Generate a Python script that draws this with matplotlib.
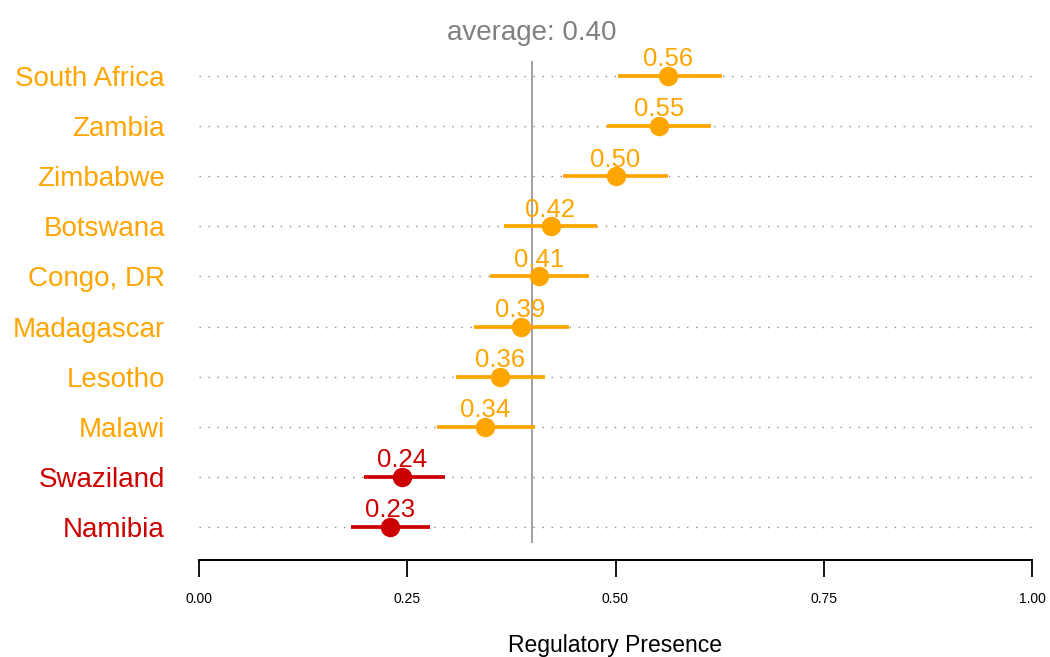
import matplotlib
matplotlib.use("Agg")
import matplotlib.pyplot as plt
import matplotlib.transforms as mtransforms

plt.rcParams['font.family'] = ['Liberation Sans', 'DejaVu Sans']

countries = ["Namibia", "Swaziland", "Malawi", "Lesotho", "Madagascar",
             "Congo, DR", "Botswana", "Zimbabwe", "Zambia", "South Africa"]
values = [0.229, 0.244, 0.343, 0.361, 0.386, 0.408, 0.422, 0.500, 0.552, 0.563]
lower = [0.182, 0.198, 0.286, 0.309, 0.330, 0.349, 0.366, 0.4375, 0.490, 0.503]
upper = [0.277, 0.295, 0.403, 0.415, 0.444, 0.468, 0.478, 0.563, 0.615, 0.628]
groups = ["low", "low", "mid", "mid", "mid", "mid", "mid", "mid", "mid", "mid"]
average = 0.40
x_ticks = [0.0, 0.25, 0.5, 0.75, 1.0]
x_ticklabels = ["0.00", "0.25", "0.50", "0.75", "1.00"]

palette = {"low": "#CC0000", "mid": "#FFA500"}

W, H = 1050, 657
fig = plt.figure(figsize=(W / 100, H / 100), dpi=100)
left, right = 199 / W, 1032 / W
bottom, top = (H - 552) / H, (H - 51) / H
ax = fig.add_axes([left, bottom, right - left, top - bottom])

n = len(countries)
ypos = list(range(n))

# dotted guide lines
ax.hlines(ypos, 0, 1, colors="#8c8c8c", linewidth=1.0,
          linestyles=(0, (1.0, 5.5)), zorder=1)

# average line
ax.axvline(average, ymin=(552 - 542) / 501, ymax=(552 - 62) / 501,
           color="#999999", linewidth=1.3, zorder=2)

for y, v, lo, hi, g in zip(ypos, values, lower, upper, groups):
    c = palette[g]
    ax.plot([lo, hi], [y, y], color=c, linewidth=2.7, solid_capstyle="butt", zorder=3)
    ax.plot([v], [y], marker="o", markersize=14, color=c, markeredgewidth=0, zorder=4)
    ax.annotate(f"{v:.2f}", (v, y), xytext=(0, 7), textcoords="offset points",
                ha="center", va="baseline", fontsize=18.5, color=c, zorder=5)

ax.set_xlim(0, 1)
ax.set_ylim(-0.5, n - 0.5)

ax.set_yticks(ypos)
ax.set_yticklabels(countries, fontsize=20)
for lbl, g in zip(ax.get_yticklabels(), groups):
    lbl.set_color(palette[g])
ax.tick_params(axis="y", length=0, pad=24.5)

ax.set_xticks(x_ticks)
ax.set_xticklabels(x_ticklabels, fontsize=11.5)
ax.tick_params(axis="x", direction="out", length=12, width=1.3, pad=11, colors="black")

for s in ["top", "right", "left"]:
    ax.spines[s].set_visible(False)
ax.spines["bottom"].set_position(("outward", 5.8))
ax.spines["bottom"].set_linewidth(1.4)

trans = mtransforms.blended_transform_factory(ax.transData, fig.transFigure)
ax.text(average, (H - 40) / H, f"average: {average:.2f}", transform=trans,
        ha="center", va="baseline", fontsize=20, color="#808080")

fig.text((left + right) / 2, (H - 652) / H, "Regulatory Presence",
         ha="center", va="baseline", fontsize=16.5, color="black")

fig.savefig("out.png", dpi=100)
